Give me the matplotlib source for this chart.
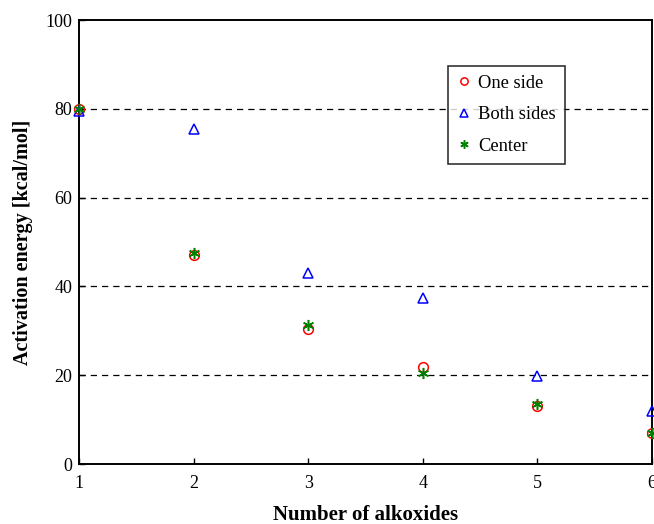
import matplotlib
matplotlib.use("Agg")
import matplotlib.pyplot as plt

plt.rcParams['font.family'] = ['Liberation Serif', 'DejaVu Serif']
plt.rcParams['mathtext.fontset'] = 'stix'

x = [1, 2, 3, 4, 5, 6]
one_side = [80.0, 47.0, 30.5, 21.8, 13.1, 7.0]
both_sides = [79.5, 75.4, 43.0, 37.4, 19.8, 11.9]
center = [80.0, 47.5, 31.3, 20.5, 13.5, 7.0]
labels = ["One side", "Both sides", "Center"]

fig = plt.figure(figsize=(6.54, 5.24), dpi=100)
ax = fig.add_axes([0.1208, 0.1145, 0.876, 0.8473])

ax.plot(x, one_side, linestyle='none', marker='o', markersize=7, markerfacecolor='none',
        markeredgecolor='red', markeredgewidth=1.1, label=labels[0], clip_on=False, zorder=3)
ax.plot(x, both_sides, linestyle='none', marker='^', markersize=7, markerfacecolor='none',
        markeredgecolor='blue', markeredgewidth=1.1, label=labels[1], clip_on=False, zorder=3)
ax.plot(x, center, linestyle='none', marker=(6, 2, 0), markersize=8,
        markeredgecolor='green', markeredgewidth=1.1, color='green', label=labels[2], clip_on=False, zorder=4)

ax.set_xlim(1, 6)
ax.set_ylim(0, 100)
ax.set_xticks(x)
ax.set_yticks([0, 20, 40, 60, 80, 100])
for yv in [20, 40, 60, 80]:
    ax.axhline(yv, color='black', linestyle=(0, (5, 4)), linewidth=0.9, zorder=1)

ax.tick_params(direction='in', labelsize=13, length=4, width=1, top=False, right=False)
ax.tick_params(axis='x', pad=8)
ax.tick_params(axis='y', pad=5)
for s in ax.spines.values():
    s.set_linewidth(1.4)

ax.set_xlabel("Number of alkoxides", fontsize=15, fontweight='bold', labelpad=9)
ax.set_ylabel("Activation energy [kcal/mol]", fontsize=14.5, fontweight='bold', labelpad=9)

leg = ax.legend(loc='upper left', bbox_to_anchor=(448 / 654, 1 - 66 / 524),
                bbox_transform=fig.transFigure, fontsize=13.3, frameon=True,
                fancybox=False, edgecolor='black', handlelength=0.8, handletextpad=0.35,
                labelspacing=0.78, borderpad=0.48, borderaxespad=0, markerscale=0.75)
leg.get_frame().set_linewidth(1.2)

fig.savefig("out.png", dpi=100)
